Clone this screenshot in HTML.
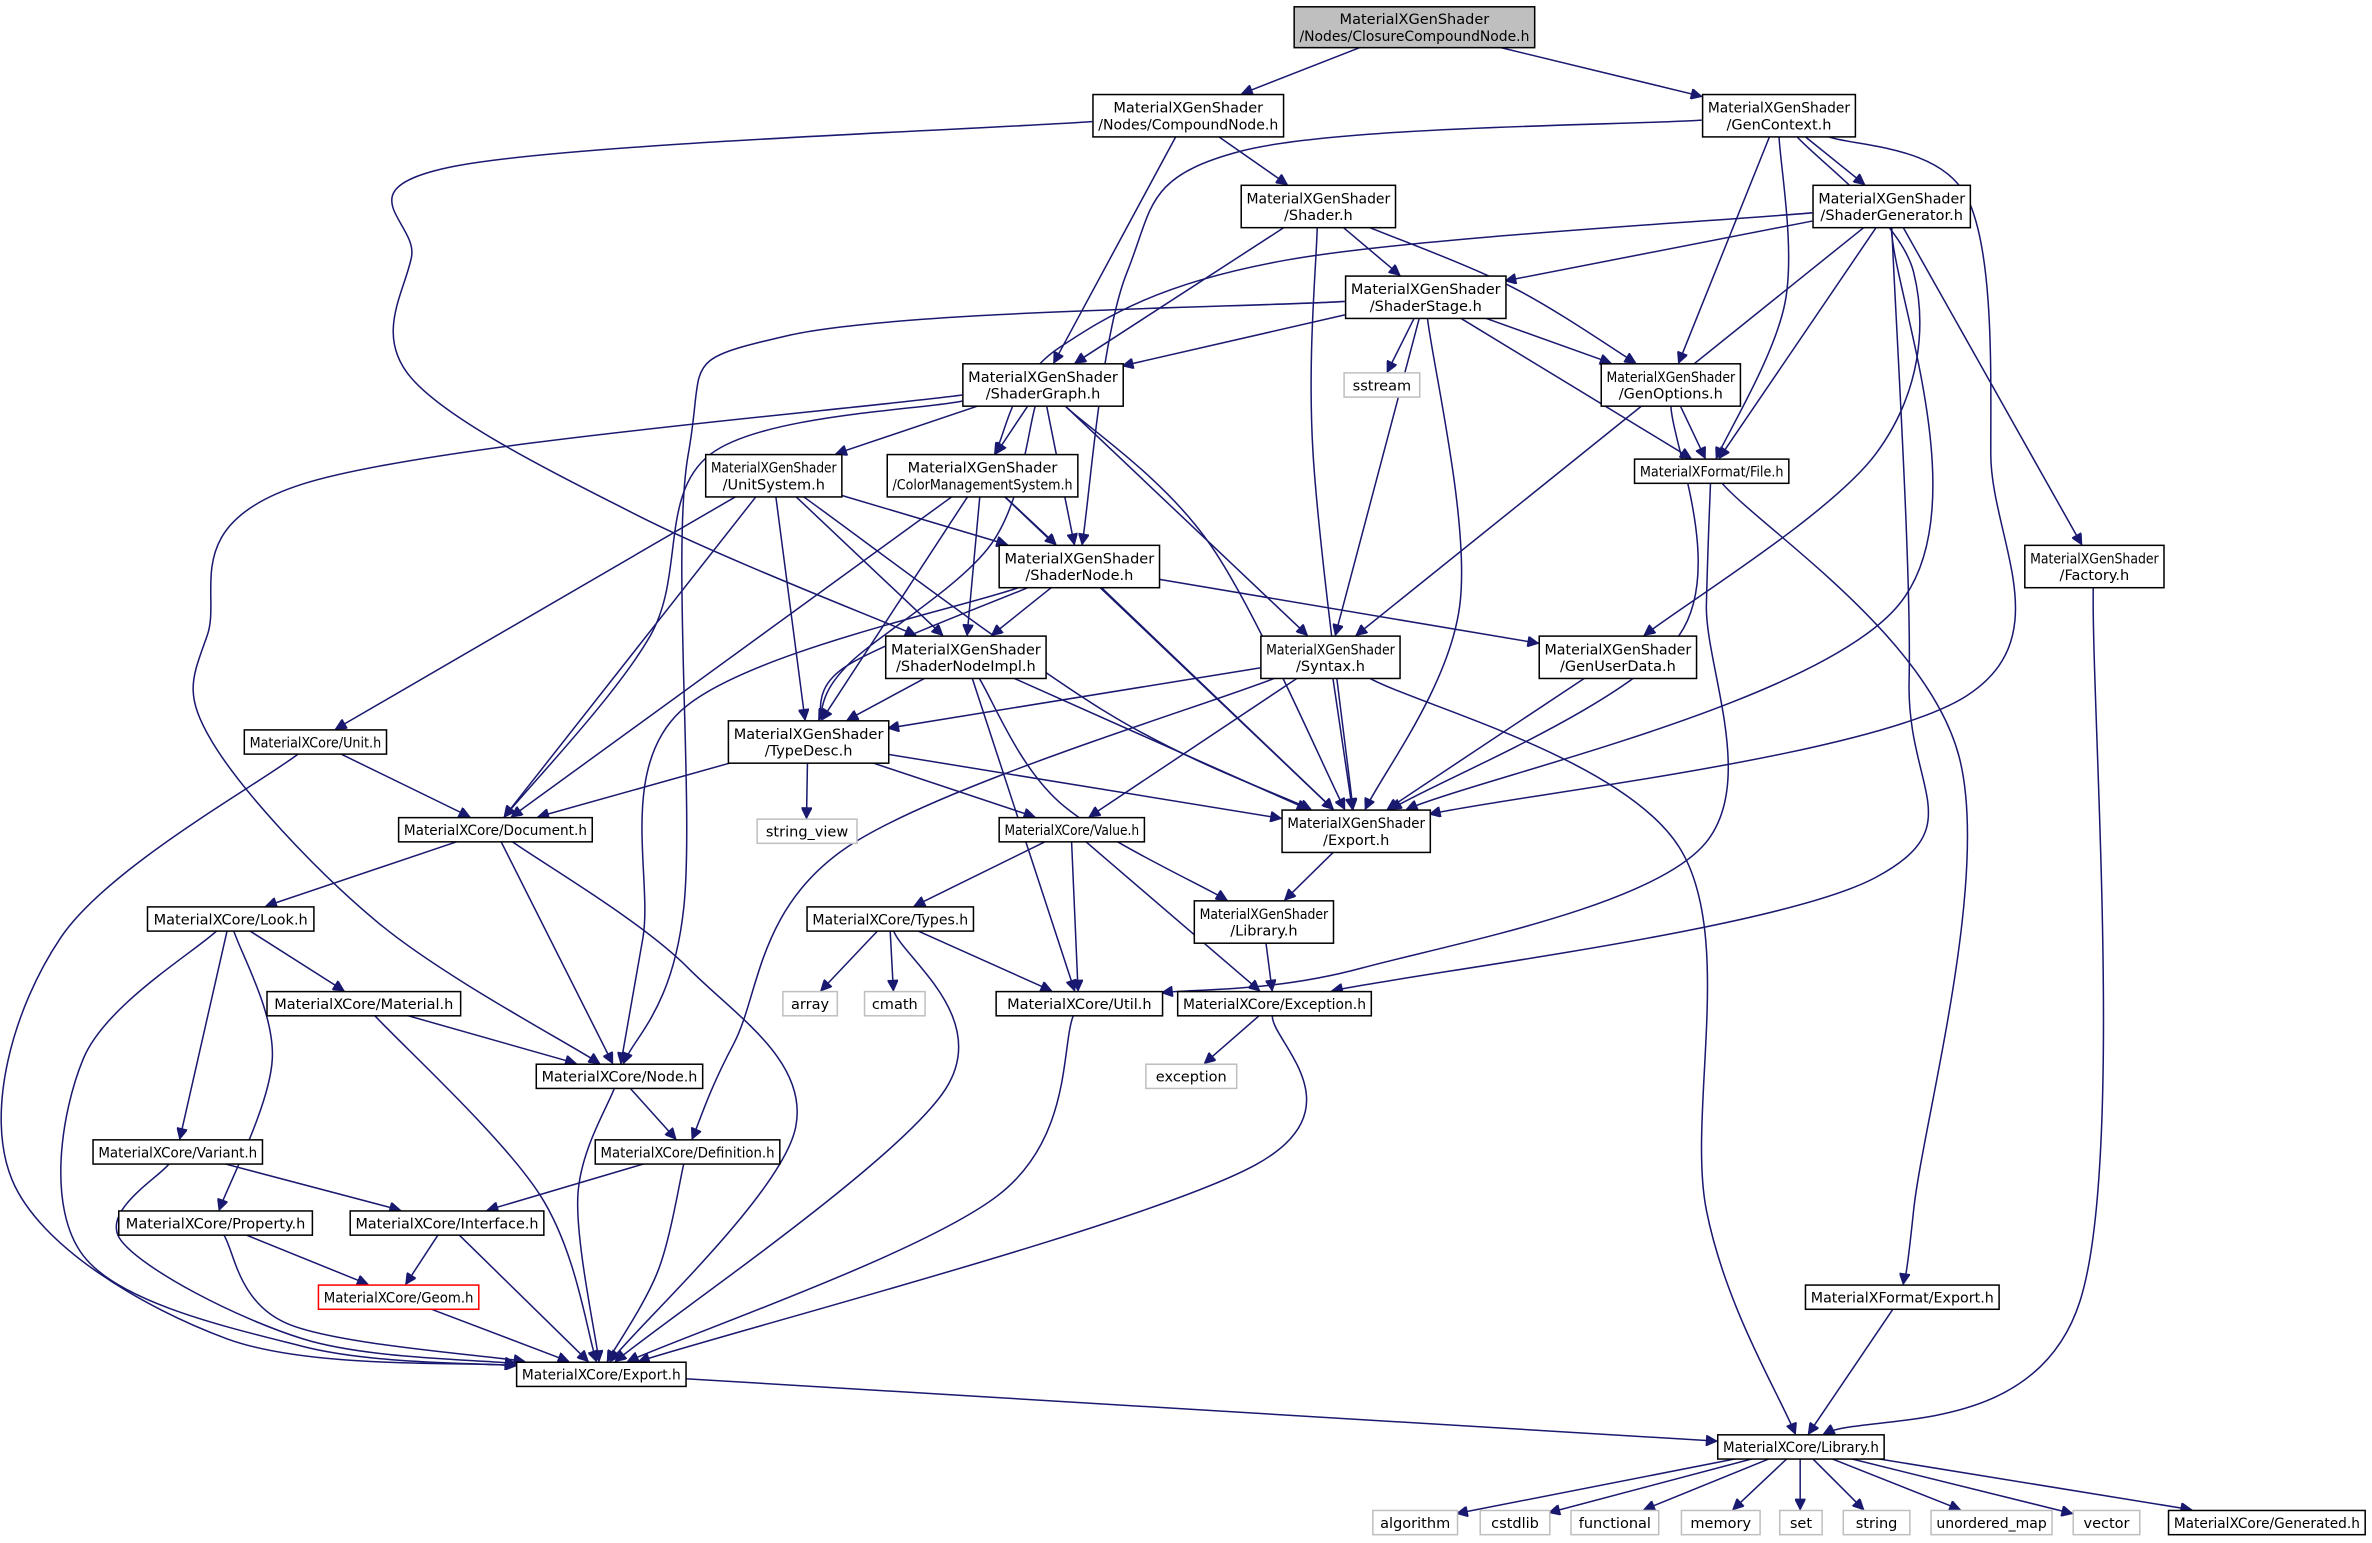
<!DOCTYPE html>
<html><head><meta charset="utf-8"><style>
html,body{margin:0;padding:0;background:#fff;}
svg{display:block;}
text{font-family:"DejaVu Sans","Liberation Sans",sans-serif;font-size:9.6px;fill:#000;}
</style></head><body>
<svg id="s" width="2372" height="1543" viewBox="0 0 1568 1020" xmlns="http://www.w3.org/2000/svg">
<defs><marker id="a" viewBox="0 0 10 10" refX="10" refY="5" markerWidth="9" markerHeight="7" markerUnits="userSpaceOnUse" orient="auto"><path d="M0,0L10,5L0,10z" fill="#191970" stroke="#191970"/></marker></defs>
<g id="e" fill="none" stroke="#191970" stroke-width="1"></g>
<g id="n"></g>
</svg>
<script>
const N={
root:[855,4,159,27,"MaterialXGenShader|/Nodes/ClosureCompoundNode.h","g"],
cn:[722,62,126,28,"MaterialXGenShader|/Nodes/CompoundNode.h"],
gc:[1125,62,101,28,"MaterialXGenShader|/GenContext.h"],
sh:[820,122,102,28,"MaterialXGenShader|/Shader.h"],
sg:[1198,122,104,28,"MaterialXGenShader|/ShaderGenerator.h"],
ss:[889,182,106,28,"MaterialXGenShader|/ShaderStage.h"],
gr:[636,240,106,28,"MaterialXGenShader|/ShaderGraph.h"],
go:[1058,240,92,28,"MaterialXGenShader|/GenOptions.h"],
sst:[888,246,50,16,"sstream","l"],
fi:[1080,303,102,16,"MaterialXFormat/File.h"],
us:[466,300,90,28,"MaterialXGenShader|/UnitSystem.h"],
cm:[586,300,126,28,"MaterialXGenShader|/ColorManagementSystem.h"],
sn:[660,360,106,28,"MaterialXGenShader|/ShaderNode.h"],
fa:[1338,360,92,28,"MaterialXGenShader|/Factory.h"],
ni:[585,420,106,28,"MaterialXGenShader|/ShaderNodeImpl.h"],
sy:[833,420,92,28,"MaterialXGenShader|/Syntax.h"],
ud:[1017,420,104,28,"MaterialXGenShader|/GenUserData.h"],
un:[161,482,94,16,"MaterialXCore/Unit.h"],
td:[481,476,106,28,"MaterialXGenShader|/TypeDesc.h"],
ge:[847,535,98,28,"MaterialXGenShader|/Export.h"],
doc:[263,540,128,16,"MaterialXCore/Document.h"],
sv:[500,541,66,16,"string_view","l"],
va:[660,540,96,16,"MaterialXCore/Value.h"],
lo:[97,599,110,16,"MaterialXCore/Look.h"],
ty:[533,599,110,16,"MaterialXCore/Types.h"],
gl:[789,595,92,28,"MaterialXGenShader|/Library.h"],
ma:[176,655,128,16,"MaterialXCore/Material.h"],
ar:[517,655,36,16,"array","l"],
cma:[571,655,40,16,"cmath","l"],
ut:[658,655,110,16,"MaterialXCore/Util.h"],
ex:[778,655,128,16,"MaterialXCore/Exception.h"],
exc:[757,703,60,16,"exception","l"],
no:[354,703,110,16,"MaterialXCore/Node.h"],
vr:[61,753,112,16,"MaterialXCore/Variant.h"],
de:[393,753,122,16,"MaterialXCore/Definition.h"],
pr:[78,800,128,16,"MaterialXCore/Property.h"],
it:[231,800,128,16,"MaterialXCore/Interface.h"],
gm:[210,849,106,16,"MaterialXCore/Geom.h","r"],
ce:[341,900,112,16,"MaterialXCore/Export.h"],
fe:[1193,849,128,16,"MaterialXFormat/Export.h"],
cl:[1135,948,110,16,"MaterialXCore/Library.h"],
b1:[907,998,56,16,"algorithm","l"],
b2:[978,998,46,16,"cstdlib","l"],
b3:[1038,998,58,16,"functional","l"],
b4:[1111,998,52,16,"memory","l"],
b5:[1176,998,28,16,"set","l"],
b6:[1218,998,44,16,"string","l"],
b7:[1276,998,80,16,"unordered_map","l"],
b8:[1370,998,44,16,"vector","l"],
b9:[1433,998,130,16,"MaterialXCore/Generated.h"]
};
const E=`root cn;root gc;cn sh;cn gr;cn ni 300,110 272,170 272,250 420,340;
gc sg;gc sn 820,100 745,180;gc go;gc fi 1180,200;gc ge 1300,130 1316,300 1300,460;gc ud 1265,180 1240,300;
sh ss;sh gr;sh go 1000,190;sh ge 868,300;sg ss;sg cm 850,172 700,230;sg sy;sg fi;sg ge 1255,400;sg ex 1262,450 1240,580;sg fa;
ss gr;ss go;ss fi;ss sy;ss ge 965,400;ss no 520,222 455,300 452,600;ss sst;go fi;go ge 1110,420;
fi ut 1128,400 1125,560 900,640;fi fe 1295,500 1265,800;
gr us;gr cm;gr sn;gr sy;gr td 655,360 560,440;gr doc 470,300 430,420;gr ge 800,360;gr no 200,320 137,420 140,490 250,610;
us un;us doc;us td;us ni;us sn;us ge 730,470;cm sn;cm ni;cm td;cm doc;cm ge;
sn ni;sn td 560,440;sn ud;sn ge;sn no 450,470 425,620;ni td;ni ge;ni ut;ni gl 700,530;
sy td;sy va;sy ge;sy de 560,560 485,690;sy cl 1110,560 1128,800;ud ge;fa cl 1375,860;un doc;un ce 40,620 8,780 150,885;
td doc;td sv;td va;td ge;ge gl;gl ex;doc lo;doc no;doc ce 455,640 526,745;va ty;va ut;va ex;
lo ma;lo vr;lo pr 180,700;lo ce 55,700 55,830 200,890;ty ar;ty cma;ty ut;ty ce 625,720;ma no;ma ce 357,790;
ut ce 660,790;ex ce 830,770;ex exc;no de;no ce 382,790;vr ce 80,820 200,885;de it;de ce 435,840;
pr gm;pr ce 190,875;it gm;it ce;gm ce;ce cl;fe cl;vr it;
cl b1;cl b2;cl b3;cl b4;cl b5;cl b6;cl b7;cl b8;cl b9`;
const ns="http://www.w3.org/2000/svg";
function el(t,a,p){const e=document.createElementNS(ns,t);for(const k in a)e.setAttribute(k,a[k]);p.appendChild(e);return e;}
function clip(n,px,py){const[x,y,w,h]=n;const cx=x+w/2,cy=y+h/2;let dx=px-cx,dy=py-cy;if(!dx&&!dy)return[cx,cy];
const s=Math.min(dx?Math.abs(w/2/dx):1e9,dy?Math.abs(h/2/dy):1e9);return[cx+dx*s,cy+dy*s];}
const eg=document.getElementById('e'),ng=document.getElementById('n');
E.split(/;\s*/).forEach(l=>{l=l.trim();if(!l)return;const p=l.split(/\s+/);const A=N[p[0]],B=N[p[1]];
const ac=[A[0]+A[2]/2,A[1]+A[3]/2],bc=[B[0]+B[2]/2,B[1]+B[3]/2];
const W=p.slice(2).map(q=>q.split(',').map(Number));
let d;
if(W.length){const s=clip(A,W[0][0],W[0][1]),t=clip(B,W[W.length-1][0],W[W.length-1][1]);
const P=[s,...W,t];d=`M${s[0]},${s[1]}`;
for(let i=0;i<P.length-1;i++){const p0=P[i-1]||P[i],p1=P[i],p2=P[i+1],p3=P[i+2]||P[i+1];
const c1=[p1[0]+(p2[0]-p0[0])/6,p1[1]+(p2[1]-p0[1])/6],c2=[p2[0]-(p3[0]-p1[0])/6,p2[1]-(p3[1]-p1[1])/6];
d+=`C${c1[0]},${c1[1]} ${c2[0]},${c2[1]} ${p2[0]},${p2[1]}`;}}
else{const s=clip(A,bc[0],bc[1]),t=clip(B,ac[0],ac[1]);d=`M${s[0]},${s[1]}L${t[0]},${t[1]}`;}
el('path',{d:d,'marker-end':'url(#a)'},eg);});
for(const k in N){const[x,y,w,h,t,c]=N[k];
el('rect',{x:x+.5,y:y+.5,width:w,height:h,fill:c=='g'?'#bfbfbf':'#fff',stroke:c=='l'?'#bfbfbf':c=='r'?'#ff0000':'#000'},ng);
const L=t.split('|');L.forEach((s,i)=>{const tx=el('text',{x:x+w/2+.5,y:y+h/2+4+(L.length>1?(i-0.5)*11:0),'text-anchor':'middle'},ng);tx.textContent=s;
const len=tx.getComputedTextLength();const mx=w-7;if(len>mx){tx.setAttribute('textLength',mx);tx.setAttribute('lengthAdjust','spacingAndGlyphs');}});}
</script>
</body></html>
